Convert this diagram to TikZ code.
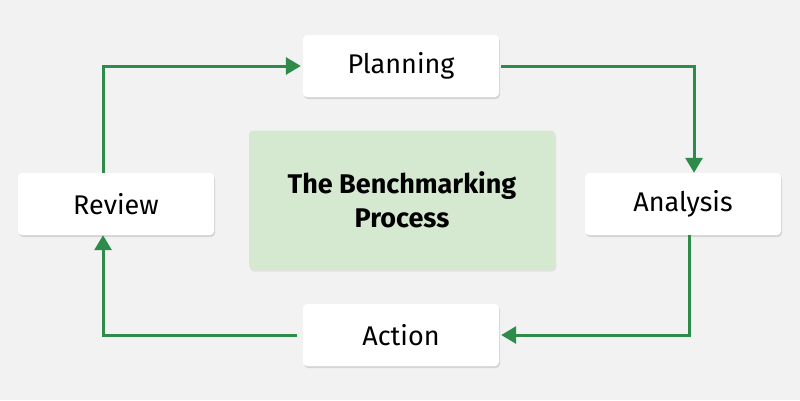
\documentclass[tikz,border=0pt]{standalone}
\usepackage{fontspec}
\setmainfont{Fira Sans}
\usetikzlibrary{arrows.meta,shadows}
\definecolor{bg}{HTML}{F2F2F2}
\definecolor{grn}{HTML}{2E8B4A}
\definecolor{cbox}{HTML}{D5E8D0}
\begin{document}
\begin{tikzpicture}[x=1pt,y=-1pt,
  stepbox/.style={draw=none,fill=white,rounded corners=4pt,minimum width=196pt,minimum height=62pt,
    font=\fontsize{27}{32}\selectfont,drop shadow={shadow xshift=1pt,shadow yshift=-2pt,opacity=0.25}},
  conn/.style={draw=grn,line width=3pt,-{Triangle[length=15pt,width=17pt]}}]
\fill[bg] (0,0) rectangle (800,400);
\useasboundingbox (0,0) rectangle (800,400);
\node[stepbox] (plan) at (401,66) {Planning};
\node[stepbox] (rev) at (116,204) {Review};
\node[stepbox] (ana) at (683,204) {Analysis};
\node[stepbox] (act) at (401,335) {Action};
\node[fill=cbox,rounded corners=4pt,minimum width=306pt,minimum height=139pt,align=center,
  font=\fontsize{27}{34}\selectfont\bfseries,drop shadow={shadow xshift=1pt,shadow yshift=-2pt,opacity=0.15}] (c) at (402,200) {The Benchmarking\\Process};
\draw[conn] ([xshift=2pt]plan.east) -| ([xshift=11pt]ana.north);
\draw[conn] ([xshift=6pt]ana.south) |- ([xshift=2pt]act.east);
\draw[conn] ([xshift=-6pt]act.west) -| ([xshift=-13pt]rev.south);
\draw[conn] ([xshift=-13pt]rev.north) |- ([xshift=-2pt]plan.west);
\end{tikzpicture}
\end{document}
